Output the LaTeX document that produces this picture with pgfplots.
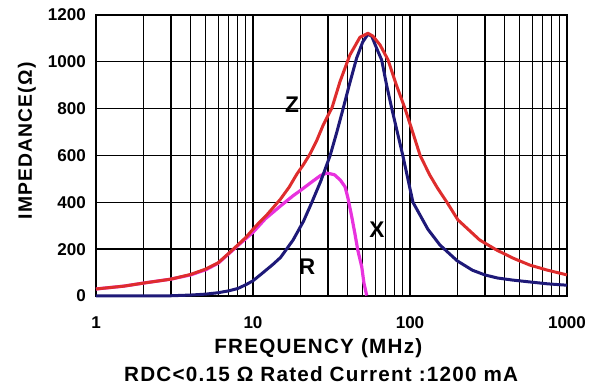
\documentclass[border=0pt]{standalone}
\usepackage{pgfplots}
\pgfplotsset{compat=1.18}
\usepackage{fontspec}
\setmainfont{Liberation Sans}
\newfontfamily\lbl{Liberation Sans}[LetterSpace=6]
\definecolor{zred}{RGB}{222,45,45}
\definecolor{xnavy}{RGB}{30,25,120}
\definecolor{rmag}{RGB}{232,50,222}
\begin{document}
\begin{tikzpicture}
\begin{axis}[
  scale only axis,
  width=353.25pt, height=210.75pt,
  xmode=log, xmin=1, xmax=1000, ymin=0, ymax=1200,
  xtick={1,10,100,1000}, xticklabels={1,10,100,1000},
  ytick={0,200,...,1200},
  yticklabels={0,200,400,600,800,1000,1200},
  minor y tick num=0,
  grid=both,
  major grid style={black, line width=1pt},
  minor grid style={black, line width=1pt},
  major tick length=0pt, minor tick length=0pt,
  axis line style={black, line width=1.1pt},
  /pgf/number format/assume math mode=true,
  ticklabel style={font=\fontsize{12.8}{14}\selectfont\bfseries},
  xticklabel style={anchor=center, yshift=-20.25pt},
  yticklabel style={anchor=east, xshift=-4pt},
  clip=false,
]
\addplot[rmag, line width=2.4pt, line join=round] coordinates {
(1,30)(1.5,42)(2,55)(3,72)(4,90)(5,112)(6,140)(7,180)(8,215)(9,245)(10,272)(12,330)(15,385)(18,428)(20,450)(24,490)(27,515)(29.5,525)(33,518)(36,495)(38.6,466)(40.2,420)(42.6,337)(44.5,269)(46.5,196)(49.3,124)(50.9,55)(53,2)
};
\addplot[xnavy, line width=2.25pt, line join=round] coordinates {
(1,0)(2,0)(3,1)(4,4)(5,8)(6,14)(7,22)(8,32)(9,48)(10,65)(11.5,98)(13.4,135)(15,165)(18,239)(21,320)(23.7,400)(27,490)(31,600)(34.2,700)(37.5,800)(41,900)(45.7,1016)(50,1085)(54,1118)(57,1110)(62,1050)(66,1008)(71,900)(76.6,800)(83,700)(90,600)(100,458)(104.5,400)(116,345)(130,285)(155,218)(200,150)(250,110)(300,90)(360,77)(450,68)(580,60)(750,52)(1000,46)
};
\addplot[zred, line width=2.25pt, line join=round] coordinates {
(1,30)(1.5,42)(2,55)(3,72)(4,92)(5,115)(6,142)(7,182)(8,218)(9,250)(10,285)(11.1,318)(12.2,345)(14.9,412)(17,465)(19,520)(21,562)(23,605)(25.5,665)(28,730)(31.9,805)(35.8,915)(41.4,1029)(48,1105)(54,1122)(58,1110)(64.5,1072)(72.5,1008)(82,900)(93,800)(104,700)(116,600)(134,515)(150,460)(172,400)(202,325)(230,290)(278,239)(357,196)(452,162)(580,132)(745,111)(1000,90)
};
\node[font=\fontsize{17}{20}\selectfont\bfseries] at (axis cs:17.7,816) {Z};
\node[font=\fontsize{17}{20}\selectfont\bfseries] at (axis cs:61.6,282) {X};
\node[font=\fontsize{17}{20}\selectfont\bfseries] at (axis cs:22.1,124) {R};
\node[font=\lbl\fontsize{15.5}{18}\selectfont\bfseries, yshift=-39pt] at (rel axis cs:0.472,0) {FREQUENCY (MHz)};
\node[font=\lbl\fontsize{15.5}{18}\selectfont\bfseries, yshift=-58.5pt] at (rel axis cs:0.478,0) {RDC<0.15 Ω Rated Current :1200 mA};
\node[xshift=-51.75pt, rotate=90, font=\lbl\fontsize{14.5}{17}\selectfont\bfseries] at (rel axis cs:0,0.552) {IMPEDANCE(Ω)};
\end{axis}
\path ([shift={(-72pt,-72pt)}]current axis.south west) rectangle ([shift={(21.75pt,11.25pt)}]current axis.north east);
\end{tikzpicture}
\end{document}
